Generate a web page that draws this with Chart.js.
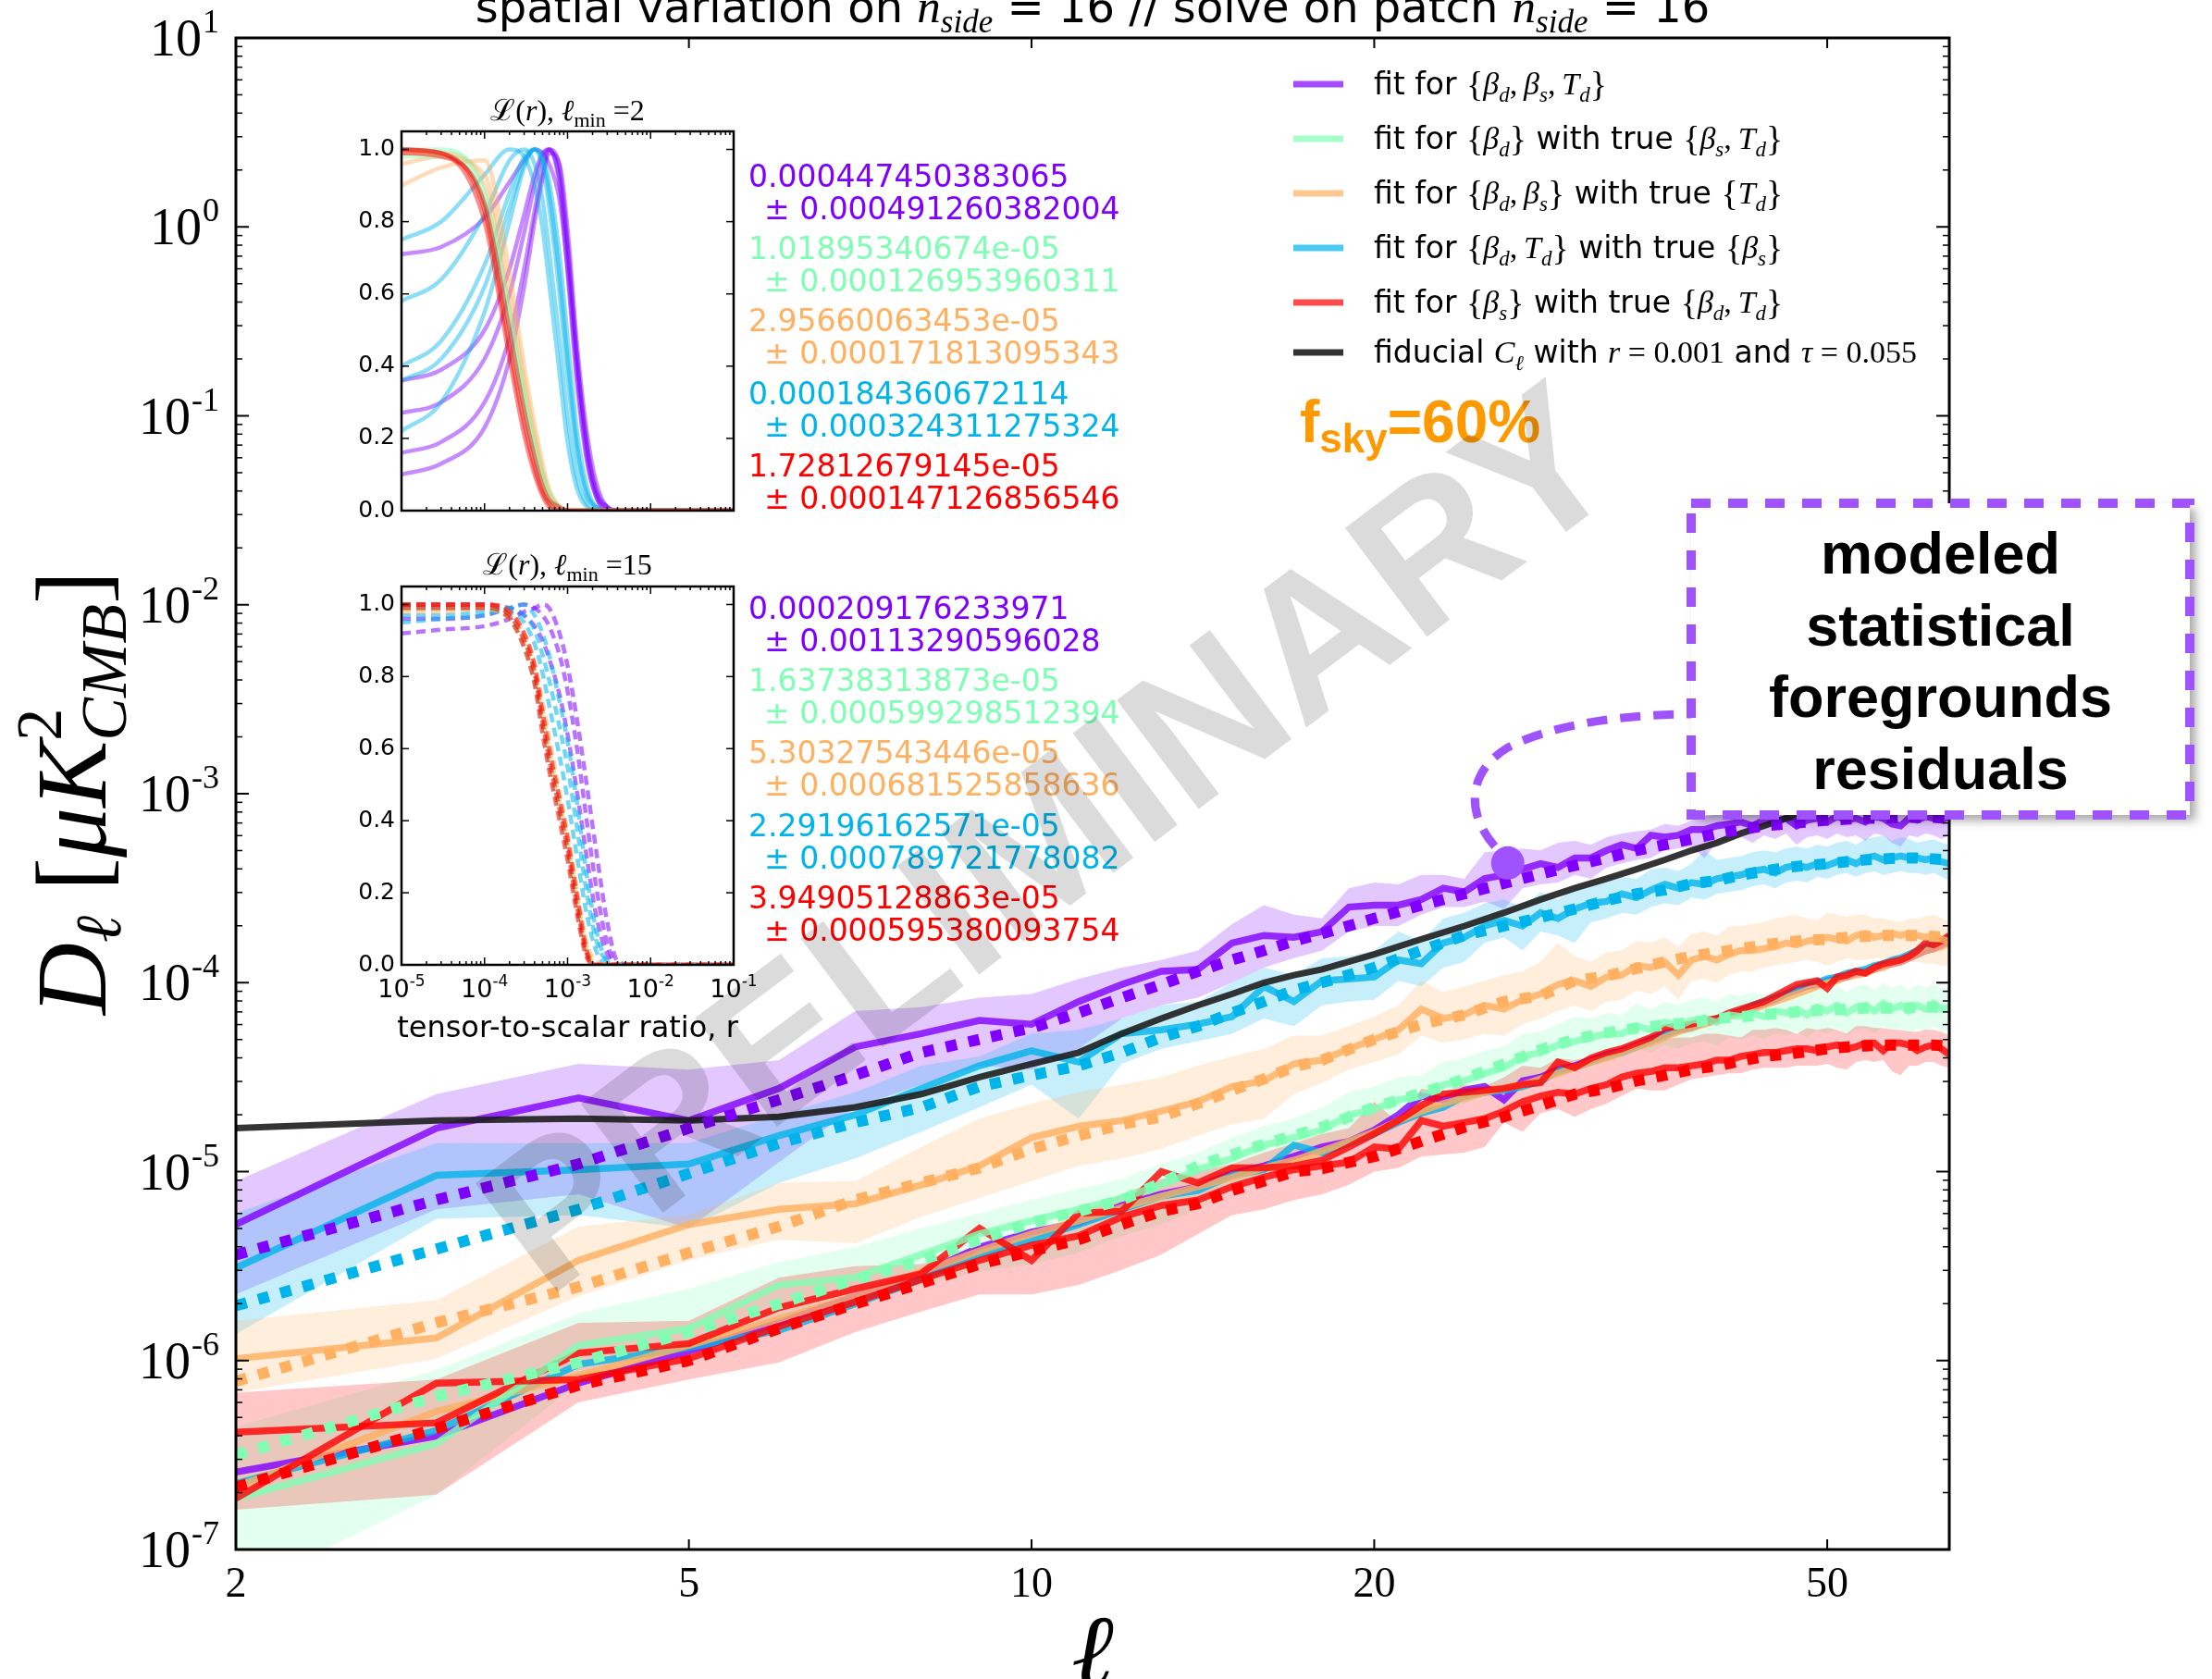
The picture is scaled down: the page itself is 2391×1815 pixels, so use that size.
<!DOCTYPE html>
<html>
<head>
<meta charset="utf-8">
<title>Foreground residuals, n_side = 16</title>
<script src="https://cdn.jsdelivr.net/npm/chart.js@4.4.1/dist/chart.umd.min.js"></script>
<style>
  html, body { margin: 0; padding: 0; background: #fff; overflow: hidden; }
  #wrap { position: relative; width: 2391px; height: 1815px; }
  #wrap canvas { position: absolute; left: 0; top: 0; }
</style>
</head>
<body>
<div id="wrap">
  <canvas id="main" width="2391" height="1815"></canvas>
  <canvas id="inset1" width="2391" height="1815"></canvas>
  <canvas id="inset2" width="2391" height="1815"></canvas>
  <canvas id="overlay" width="2391" height="1815"></canvas>
</div>
<script>
// multipoles
const ell = [2, 3, 4, 5, 6, 7, 8, 9, 10, 11, 12, 13, 14, 15, 16, 17, 18, 19, 20, 21,
  22, 23, 24, 25, 26, 27, 28, 29, 30, 31, 32, 33, 34, 35, 36, 37, 38, 39, 40, 41,
  42, 43, 44, 45, 46, 47, 48, 49, 50, 51, 52, 53, 54, 55, 56, 57, 58, 59, 60, 61,
  62, 63, 64];
const modelEll = [2, 3, 4, 5, 6, 7, 8, 9, 10, 11, 12, 13, 14, 15, 16, 17, 18,
  20, 22, 24, 26, 28, 30, 32, 34, 36, 38, 40, 42, 44, 46, 48, 50, 52, 54, 56, 58, 60, 62, 64];

// all spectra below are log10(D_ell / uK^2)
// fit for {beta_d, beta_s, T_d}
const purpleFit = [-5.28, -4.77, -4.61, -4.73, -4.56, -4.34, -4.27, -4.20, -4.22, -4.10,
  -4.01, -3.94, -3.93, -3.79, -3.75, -3.76, -3.73, -3.60, -3.59, -3.59,
  -3.56, -3.50, -3.52, -3.45, -3.43, -3.40, -3.37, -3.39, -3.34, -3.34,
  -3.30, -3.27, -3.29, -3.22, -3.23, -3.22, -3.19, -3.19, -3.17, -3.16,
  -3.15, -3.17, -3.14, -3.15, -3.13, -3.17, -3.14, -3.13, -3.15, -3.12,
  -3.14, -3.13, -3.15, -3.12, -3.13, -3.16, -3.17, -3.13, -3.14, -3.12,
  -3.13, -3.14, -3.12];
const purpleHi = [-5.05, -4.59, -4.43, -4.46, -4.41, -4.15, -4.13, -4.08, -4.06, -3.98,
  -3.92, -3.88, -3.83, -3.69, -3.59, -3.64, -3.66, -3.50, -3.47, -3.48,
  -3.43, -3.43, -3.45, -3.31, -3.30, -3.29, -3.30, -3.26, -3.25, -3.27,
  -3.23, -3.21, -3.20, -3.19, -3.16, -3.17, -3.14, -3.12, -3.11, -3.08,
  -3.07, -3.09, -3.06, -3.07, -3.05, -3.08, -3.06, -3.05, -3.07, -3.04,
  -3.06, -3.05, -3.07, -3.04, -3.05, -3.08, -3.07, -3.05, -3.06, -3.04,
  -3.05, -3.06, -3.04];
const purpleLo = [-5.65, -5.20, -5.12, -5.30, -4.95, -4.66, -4.54, -4.44, -4.46, -4.35,
  -4.19, -4.12, -4.08, -4.00, -3.92, -3.87, -3.83, -3.73, -3.70, -3.70,
  -3.64, -3.60, -3.60, -3.57, -3.61, -3.50, -3.48, -3.47, -3.43, -3.45,
  -3.39, -3.37, -3.35, -3.34, -3.30, -3.29, -3.28, -3.34, -3.26, -3.24,
  -3.23, -3.26, -3.22, -3.24, -3.21, -3.27, -3.23, -3.22, -3.24, -3.21,
  -3.23, -3.22, -3.25, -3.21, -3.22, -3.26, -3.28, -3.22, -3.23, -3.21,
  -3.22, -3.24, -3.22];
const purpleModel = [-5.44, -5.15, -4.96, -4.77, -4.62, -4.49, -4.37, -4.30, -4.24, -4.16,
  -4.08, -4.01, -3.94, -3.88, -3.83, -3.78, -3.74,
  -3.66, -3.59, -3.53, -3.475, -3.425, -3.38, -3.34, -3.30, -3.27, -3.24, -3.21, -3.19,
  -3.17, -3.16, -3.15, -3.14, -3.135, -3.13, -3.13, -3.125, -3.125, -3.125, -3.13];
const purpleNoise = [-6.59, -6.40, -6.12, -5.95, -5.80, -5.66, -5.54, -5.40, -5.32, -5.27,
  -5.18, -5.12, -5.08, -5.01, -4.97, -4.92, -4.87, -4.84, -4.78, -4.70,
  -4.60, -4.62, -4.57, -4.55, -4.62, -4.52, -4.50, -4.46, -4.44, -4.41,
  -4.38, -4.36, -4.33, -4.30, -4.27, -4.25, -4.23, -4.21, -4.20, -4.17,
  -4.15, -4.13, -4.11, -4.09, -4.06, -4.04, -4.02, -4.01, -3.99, -3.98,
  -3.97, -3.95, -3.94, -3.93, -3.91, -3.90, -3.89, -3.87, -3.85, -3.83,
  -3.82, -3.80, -3.78];

// fit for {beta_d} with true {beta_s, T_d}
const greenFit = [-6.73, -6.44, -5.92, -5.83, -5.60, -5.56, -5.44, -5.33, -5.26, -5.20,
  -5.14, -5.07, -4.99, -4.93, -4.86, -4.82, -4.78, -4.70, -4.67, -4.62,
  -4.60, -4.54, -4.52, -4.48, -4.45, -4.39, -4.37, -4.33, -4.31, -4.29,
  -4.27, -4.27, -4.23, -4.25, -4.21, -4.23, -4.20, -4.19, -4.21, -4.17,
  -4.18, -4.16, -4.18, -4.15, -4.16, -4.14, -4.17, -4.13, -4.15, -4.12,
  -4.16, -4.13, -4.12, -4.15, -4.11, -4.14, -4.12, -4.15, -4.12, -4.14,
  -4.11, -4.14, -4.13];
const greenHi = [-6.35, -6.05, -5.75, -5.62, -5.48, -5.40, -5.30, -5.22, -5.15, -5.09,
  -5.04, -4.96, -4.90, -4.82, -4.76, -4.72, -4.66, -4.58, -4.55, -4.50,
  -4.49, -4.42, -4.40, -4.36, -4.34, -4.27, -4.26, -4.22, -4.18, -4.19,
  -4.16, -4.17, -4.11, -4.14, -4.10, -4.12, -4.09, -4.08, -4.10, -4.06,
  -4.07, -4.05, -4.07, -4.04, -4.05, -4.03, -4.06, -4.02, -4.04, -4.01,
  -4.05, -4.02, -4.01, -4.04, -4.00, -4.03, -4.01, -4.04, -4.01, -4.03,
  -4.00, -4.03, -4.02];
const greenLo = [-7.23, -6.71, -6.12, -5.92, -5.80, -5.68, -5.60, -5.53, -5.49, -5.43,
  -5.34, -5.28, -5.20, -5.10, -5.02, -4.96, -4.92, -4.84, -4.80, -4.75,
  -4.72, -4.66, -4.64, -4.60, -4.57, -4.51, -4.49, -4.45, -4.43, -4.41,
  -4.39, -4.39, -4.35, -4.37, -4.33, -4.35, -4.32, -4.31, -4.33, -4.29,
  -4.30, -4.28, -4.30, -4.27, -4.28, -4.26, -4.29, -4.25, -4.27, -4.24,
  -4.28, -4.25, -4.24, -4.27, -4.23, -4.26, -4.24, -4.27, -4.24, -4.26,
  -4.23, -4.26, -4.25];
const greenModel = [-6.50, -6.19, -6.01, -5.85, -5.70, -5.57, -5.47, -5.36, -5.27, -5.21,
  -5.15, -5.06, -4.97, -4.91, -4.855, -4.81, -4.765,
  -4.66, -4.585, -4.51, -4.43, -4.355, -4.30, -4.265, -4.24, -4.225, -4.21, -4.19, -4.18,
  -4.17, -4.16, -4.15, -4.145, -4.14, -4.135, -4.135, -4.135, -4.13, -4.13, -4.135];

// fit for {beta_d, beta_s} with true {T_d}
const orangeFit = [-5.99, -5.88, -5.47, -5.28, -5.20, -5.17, -5.07, -4.97, -4.82, -4.76,
  -4.73, -4.68, -4.63, -4.55, -4.52, -4.43, -4.41, -4.35, -4.30, -4.25,
  -4.14, -4.19, -4.17, -4.12, -4.14, -4.09, -4.06, -4.01, -3.99, -4.02,
  -3.97, -3.96, -3.91, -3.92, -3.89, -3.96, -3.88, -3.86, -3.88, -3.85,
  -3.83, -3.83, -3.82, -3.81, -3.79, -3.80, -3.78, -3.77, -3.76, -3.77,
  -3.78, -3.75, -3.74, -3.76, -3.75, -3.74, -3.75, -3.74, -3.75, -3.76,
  -3.75, -3.77, -3.78];
const orangeHi = [-5.79, -5.68, -5.29, -5.23, -5.06, -5.05, -4.87, -4.72, -4.64, -4.58,
  -4.54, -4.50, -4.44, -4.39, -4.35, -4.28, -4.28, -4.23, -4.18, -4.12,
  -3.99, -4.05, -4.02, -3.99, -3.96, -3.94, -3.89, -3.79, -3.86, -3.89,
  -3.84, -3.83, -3.78, -3.79, -3.76, -3.81, -3.74, -3.73, -3.75, -3.70,
  -3.70, -3.69, -3.68, -3.66, -3.65, -3.64, -3.66, -3.67, -3.63, -3.64,
  -3.65, -3.64, -3.64, -3.66, -3.66, -3.67, -3.68, -3.66, -3.66, -3.65,
  -3.64, -3.66, -3.68];
const orangeLo = [-6.17, -5.99, -5.66, -5.47, -5.36, -5.38, -5.24, -5.14, -5.05, -4.97,
  -4.93, -4.88, -4.81, -4.75, -4.72, -4.59, -4.53, -4.46, -4.42, -4.38,
  -4.28, -4.32, -4.30, -4.27, -4.28, -4.22, -4.19, -4.15, -4.12, -4.15,
  -4.10, -4.09, -4.04, -4.06, -4.02, -4.09, -3.99, -3.98, -4.00, -3.96,
  -3.94, -3.94, -3.92, -3.91, -3.90, -3.89, -3.88, -3.89, -3.91, -3.89,
  -3.87, -3.88, -3.88, -3.87, -3.87, -3.87, -3.88, -3.89, -3.89, -3.90,
  -3.90, -3.91, -3.91];
const orangeModel = [-6.11, -5.80, -5.61, -5.43, -5.29, -5.15, -5.06, -4.98, -4.88, -4.81,
  -4.75, -4.71, -4.64, -4.57, -4.51, -4.445, -4.41,
  -4.30, -4.22, -4.17, -4.10, -4.07, -3.99, -3.965, -3.925, -3.89, -3.86, -3.84, -3.82,
  -3.80, -3.785, -3.775, -3.77, -3.76, -3.755, -3.75, -3.75, -3.75, -3.755, -3.76];
const orangeNoise = [-6.67, -6.27, -6.08, -5.92, -5.78, -5.66, -5.53, -5.42, -5.33, -5.26,
  -5.19, -5.13, -5.08, -5.03, -4.98, -4.94, -4.89, -4.84, -4.79, -4.73,
  -4.68, -4.64, -4.61, -4.58, -4.56, -4.54, -4.51, -4.48, -4.45, -4.42,
  -4.40, -4.37, -4.34, -4.32, -4.29, -4.26, -4.24, -4.22, -4.20, -4.18,
  -4.16, -4.14, -4.12, -4.10, -4.08, -4.06, -4.04, -4.02, -4.00, -3.99,
  -3.97, -3.96, -3.95, -3.93, -3.92, -3.90, -3.89, -3.87, -3.85, -3.83,
  -3.82, -3.81, -3.79];

// fit for {beta_d, T_d} with true {beta_s}
const blueFit = [-5.51, -5.02, -4.99, -4.96, -4.81, -4.70, -4.56, -4.44, -4.36, -4.42,
  -4.27, -4.25, -4.22, -4.18, -4.02, -4.10, -3.99, -3.98, -3.97, -3.88,
  -3.90, -3.79, -3.76, -3.70, -3.67, -3.70, -3.63, -3.66, -3.61, -3.58,
  -3.57, -3.53, -3.55, -3.51, -3.48, -3.50, -3.47, -3.48, -3.45, -3.44,
  -3.43, -3.41, -3.40, -3.42, -3.39, -3.38, -3.39, -3.37, -3.38, -3.36,
  -3.35, -3.37, -3.34, -3.33, -3.35, -3.34, -3.33, -3.34, -3.34, -3.35,
  -3.34, -3.36, -3.37];
const blueHi = [-5.22, -4.85, -4.85, -4.85, -4.70, -4.58, -4.44, -4.39, -4.27, -4.25,
  -4.19, -4.12, -4.10, -4.00, -3.92, -3.96, -3.87, -3.86, -3.83, -3.73,
  -3.78, -3.66, -3.63, -3.58, -3.56, -3.60, -3.52, -3.56, -3.50, -3.47,
  -3.46, -3.44, -3.45, -3.40, -3.39, -3.41, -3.37, -3.30, -3.35, -3.34,
  -3.33, -3.31, -3.30, -3.31, -3.29, -3.28, -3.29, -3.27, -3.28, -3.26,
  -3.25, -3.27, -3.24, -3.23, -3.22, -3.25, -3.23, -3.24, -3.26, -3.25,
  -3.24, -3.26, -3.27];
const blueLo = [-5.86, -5.25, -5.23, -5.30, -5.06, -4.93, -4.79, -4.66, -4.54, -4.72,
  -4.43, -4.35, -4.31, -4.27, -4.19, -4.23, -4.12, -4.10, -4.09, -3.99,
  -4.02, -3.92, -3.89, -3.79, -3.76, -3.83, -3.73, -3.75, -3.79, -3.68,
  -3.66, -3.63, -3.64, -3.60, -3.58, -3.59, -3.55, -3.56, -3.53, -3.52,
  -3.51, -3.49, -3.48, -3.50, -3.47, -3.46, -3.47, -3.44, -3.45, -3.43,
  -3.42, -3.44, -3.42, -3.41, -3.43, -3.42, -3.41, -3.42, -3.42, -3.43,
  -3.42, -3.44, -3.46];
const blueModel = [-5.71, -5.41, -5.20, -5.01, -4.85, -4.74, -4.66, -4.55, -4.49, -4.44,
  -4.37, -4.29, -4.23, -4.16, -4.10, -4.04, -4.00,
  -3.92, -3.83, -3.75, -3.70, -3.655, -3.61, -3.565, -3.53, -3.51, -3.475, -3.46, -3.43,
  -3.41, -3.39, -3.38, -3.37, -3.36, -3.35, -3.345, -3.34, -3.34, -3.345, -3.35];
const blueNoise = [-6.65, -6.37, -6.02, -5.93, -5.84, -5.70, -5.57, -5.44, -5.36, -5.28,
  -5.20, -5.13, -5.10, -5.02, -4.99, -4.86, -4.90, -4.85, -4.80, -4.74,
  -4.69, -4.66, -4.60, -4.58, -4.57, -4.55, -4.52, -4.47, -4.45, -4.42,
  -4.39, -4.37, -4.34, -4.31, -4.28, -4.25, -4.24, -4.21, -4.19, -4.17,
  -4.15, -4.12, -4.10, -4.08, -4.06, -4.03, -4.01, -4.00, -3.98, -3.97,
  -3.95, -3.94, -3.93, -3.91, -3.90, -3.88, -3.87, -3.85, -3.83, -3.81,
  -3.79, -3.78, -3.76];

// fit for {beta_s} with true {beta_d, T_d}
const redFit = [-6.73, -6.12, -6.10, -5.99, -5.82, -5.69, -5.57, -5.47, -5.39, -5.34,
  -5.24, -5.18, -5.15, -5.08, -5.03, -4.99, -4.97, -4.95, -4.87, -4.88,
  -4.73, -4.76, -4.74, -4.72, -4.68, -4.63, -4.60, -4.58, -4.59, -4.56,
  -4.54, -4.50, -4.48, -4.47, -4.45, -4.45, -4.44, -4.43, -4.41, -4.41,
  -4.39, -4.38, -4.37, -4.37, -4.36, -4.35, -4.35, -4.36, -4.34, -4.33,
  -4.35, -4.34, -4.32, -4.32, -4.36, -4.32, -4.32, -4.33, -4.36, -4.34,
  -4.33, -4.35, -4.38];
const redHi = [-6.17, -6.10, -5.80, -5.79, -5.56, -5.50, -5.49, -5.39, -5.36, -5.22,
  -5.12, -5.04, -5.00, -4.96, -4.90, -4.85, -4.80, -4.77, -4.63, -4.74,
  -4.56, -4.58, -4.54, -4.55, -4.50, -4.44, -4.45, -4.40, -4.41, -4.39,
  -4.37, -4.36, -4.35, -4.31, -4.30, -4.29, -4.29, -4.27, -4.27, -4.28,
  -4.29, -4.25, -4.25, -4.24, -4.25, -4.27, -4.24, -4.25, -4.24, -4.25,
  -4.27, -4.23, -4.23, -4.24, -4.24, -4.25, -4.25, -4.26, -4.26, -4.25,
  -4.25, -4.26, -4.28];
const redLo = [-6.79, -6.71, -6.22, -6.10, -6.01, -5.85, -5.74, -5.65, -5.65, -5.60,
  -5.52, -5.44, -5.33, -5.23, -5.20, -5.15, -5.12, -5.07, -5.00, -4.98,
  -4.92, -4.91, -4.90, -4.87, -4.74, -4.79, -4.69, -4.67, -4.71, -4.67,
  -4.64, -4.60, -4.56, -4.57, -4.57, -4.54, -4.51, -4.50, -4.49, -4.48,
  -4.48, -4.46, -4.45, -4.45, -4.45, -4.44, -4.44, -4.44, -4.43, -4.45,
  -4.46, -4.42, -4.41, -4.42, -4.41, -4.47, -4.49, -4.44, -4.44, -4.42,
  -4.42, -4.44, -4.45];
const redModel = [-6.67, -6.36, -6.13, -6.00, -5.83, -5.70, -5.59, -5.49, -5.42, -5.36,
  -5.28, -5.21, -5.17, -5.10, -5.05, -5.00, -4.985,
  -4.92, -4.84, -4.765, -4.71, -4.65, -4.59, -4.56, -4.52, -4.49, -4.46, -4.44, -4.415,
  -4.39, -4.38, -4.365, -4.35, -4.34, -4.335, -4.33, -4.33, -4.33, -4.33, -4.335];
const redNoise = [-6.38, -6.33, -5.96, -5.91, -5.72, -5.62, -5.54, -5.30, -5.47, -5.22,
  -5.21, -5.00, -5.06, -4.98, -4.98, -4.97, -4.94, -4.87, -4.80, -4.73,
  -4.65, -4.59, -4.58, -4.57, -4.56, -4.54, -4.53, -4.42, -4.45, -4.40,
  -4.37, -4.35, -4.32, -4.29, -4.24, -4.23, -4.22, -4.20, -4.19, -4.16,
  -4.14, -4.12, -4.10, -4.07, -4.04, -4.01, -4.00, -3.99, -4.03, -3.97,
  -3.96, -3.94, -3.95, -3.92, -3.90, -3.89, -3.88, -3.86, -3.83, -3.79,
  -3.80, -3.78, -3.75];

// fiducial lensing + r = 0.001 spectrum
const fiducial = [-4.77, -4.73, -4.72, -4.73, -4.71, -4.66, -4.59, -4.50, -4.43, -4.37,
  -4.27, -4.19, -4.12, -4.06, -4.00, -3.96, -3.93,
  -3.85, -3.77, -3.70, -3.63, -3.56, -3.50, -3.45, -3.40, -3.35, -3.30, -3.26, -3.21,
  -3.17, -3.13, -3.10, -3.06, -3.03, -2.99, -2.96, -2.93, -2.90, -2.87, -2.84];

// highlighted residual point
const markerPoint = { ell: 26.2, dl: 4.3e-4 };

const xTicks = [2, 5, 10, 20, 50];
const yDecades = [-7, -6, -5, -4, -3, -2, -1, 0, 1];

// likelihood curves L(r) on a common r grid
const rGrid = [1e-5, 3e-5, 1e-4, 2e-4, 3e-4, 4e-4, 5e-4, 6e-4, 8e-4, 1e-3, 1.3e-3, 1.7e-3,
  2.2e-3, 3e-3, 4e-3, 6e-3, 1e-2, 1e-1];

const lmin2Purple = [
  [0.10, 0.13, 0.23, 0.42, 0.62, 0.80, 0.92, 0.99, 0.96, 0.78, 0.46, 0.22, 0.08, 0.01, 0, 0, 0, 0],
  [0.16, 0.19, 0.30, 0.48, 0.67, 0.83, 0.94, 1.00, 0.95, 0.74, 0.42, 0.19, 0.06, 0.01, 0, 0, 0, 0],
  [0.27, 0.30, 0.42, 0.60, 0.77, 0.90, 0.98, 1.00, 0.90, 0.66, 0.35, 0.14, 0.04, 0, 0, 0, 0, 0],
  [0.36, 0.39, 0.50, 0.67, 0.82, 0.93, 0.99, 1.00, 0.92, 0.72, 0.42, 0.18, 0.05, 0.01, 0, 0, 0, 0],
  [0.71, 0.73, 0.81, 0.91, 0.97, 1.00, 0.99, 0.96, 0.86, 0.67, 0.38, 0.15, 0.04, 0, 0, 0, 0, 0]
];
const lmin2Blue = [
  [0.22, 0.30, 0.55, 0.80, 0.95, 1.00, 0.97, 0.88, 0.65, 0.42, 0.18, 0.05, 0.01, 0, 0, 0, 0, 0],
  [0.40, 0.47, 0.68, 0.88, 0.98, 1.00, 0.95, 0.84, 0.60, 0.37, 0.15, 0.04, 0.01, 0, 0, 0, 0, 0],
  [0.58, 0.64, 0.82, 0.97, 1.00, 0.96, 0.86, 0.72, 0.47, 0.26, 0.09, 0.02, 0, 0, 0, 0, 0, 0],
  [0.75, 0.80, 0.93, 1.00, 0.98, 0.90, 0.78, 0.63, 0.38, 0.19, 0.06, 0.01, 0, 0, 0, 0, 0, 0],
  [0.36, 0.42, 0.62, 0.84, 0.96, 1.00, 0.98, 0.91, 0.71, 0.48, 0.22, 0.07, 0.01, 0, 0, 0, 0, 0]
];
const lmin2Orange = [
  [0.90, 0.95, 0.97, 0.66, 0.40, 0.24, 0.13, 0.06, 0.01, 0, 0, 0, 0, 0, 0, 0, 0, 0],
  [0.96, 0.98, 0.93, 0.60, 0.36, 0.21, 0.11, 0.05, 0.01, 0, 0, 0, 0, 0, 0, 0, 0, 0],
  [0.99, 0.99, 0.90, 0.56, 0.33, 0.19, 0.10, 0.04, 0.01, 0, 0, 0, 0, 0, 0, 0, 0, 0]
];
const lmin2Green = [
  [1.00, 0.99, 0.86, 0.52, 0.30, 0.16, 0.08, 0.03, 0.01, 0, 0, 0, 0, 0, 0, 0, 0, 0],
  [0.98, 0.98, 0.84, 0.48, 0.27, 0.14, 0.06, 0.02, 0, 0, 0, 0, 0, 0, 0, 0, 0, 0],
  [1.00, 1.00, 0.88, 0.55, 0.33, 0.19, 0.10, 0.05, 0.01, 0, 0, 0, 0, 0, 0, 0, 0, 0]
];
const lmin2Red = [
  [1.00, 0.99, 0.83, 0.45, 0.24, 0.12, 0.05, 0.02, 0, 0, 0, 0, 0, 0, 0, 0, 0, 0],
  [0.99, 0.98, 0.85, 0.50, 0.28, 0.15, 0.07, 0.03, 0.01, 0, 0, 0, 0, 0, 0, 0, 0, 0],
  [1.00, 0.99, 0.80, 0.42, 0.21, 0.10, 0.04, 0.01, 0, 0, 0, 0, 0, 0, 0, 0, 0, 0]
];

const lmin15Purple = [
  [0.92, 0.93, 0.94, 0.96, 0.98, 0.99, 1.00, 0.99, 0.92, 0.83, 0.68, 0.50, 0.32, 0.12, 0.01, 0, 0, 0],
  [0.96, 0.96, 0.97, 0.99, 1.00, 0.99, 0.97, 0.94, 0.86, 0.76, 0.60, 0.40, 0.22, 0.06, 0, 0, 0, 0],
  [1.00, 1.00, 1.00, 0.99, 0.97, 0.94, 0.90, 0.85, 0.75, 0.64, 0.48, 0.30, 0.14, 0.03, 0, 0, 0, 0]
];
const lmin15Blue = [
  [0.97, 0.97, 0.98, 0.99, 0.97, 0.93, 0.86, 0.79, 0.66, 0.55, 0.38, 0.20, 0.07, 0.01, 0, 0, 0, 0],
  [0.99, 0.99, 0.99, 0.98, 0.95, 0.89, 0.81, 0.72, 0.58, 0.46, 0.30, 0.14, 0.04, 0, 0, 0, 0, 0],
  [0.95, 0.96, 0.97, 0.99, 1.00, 0.97, 0.92, 0.86, 0.73, 0.62, 0.45, 0.25, 0.10, 0.01, 0, 0, 0, 0]
];
const lmin15Orange = [
  [0.99, 0.99, 1.00, 0.98, 0.92, 0.84, 0.73, 0.63, 0.48, 0.37, 0.21, 0.06, 0.01, 0, 0, 0, 0, 0],
  [1.00, 1.00, 0.99, 0.96, 0.89, 0.79, 0.68, 0.58, 0.44, 0.33, 0.18, 0.04, 0, 0, 0, 0, 0, 0],
  [0.98, 0.98, 0.99, 0.97, 0.91, 0.82, 0.71, 0.61, 0.46, 0.35, 0.20, 0.05, 0, 0, 0, 0, 0, 0]
];
const lmin15Green = [
  [0.99, 0.99, 1.00, 0.97, 0.90, 0.81, 0.69, 0.59, 0.45, 0.34, 0.18, 0.04, 0, 0, 0, 0, 0, 0],
  [1.00, 1.00, 0.99, 0.96, 0.88, 0.78, 0.66, 0.55, 0.42, 0.31, 0.16, 0.03, 0, 0, 0, 0, 0, 0]
];
const lmin15Red = [
  [1.00, 1.00, 1.00, 0.97, 0.90, 0.81, 0.67, 0.57, 0.43, 0.32, 0.16, 0.03, 0, 0, 0, 0, 0, 0],
  [0.99, 0.99, 0.99, 0.96, 0.88, 0.78, 0.64, 0.54, 0.40, 0.29, 0.14, 0.02, 0, 0, 0, 0, 0, 0],
  [1.00, 1.00, 1.00, 0.98, 0.92, 0.83, 0.70, 0.60, 0.46, 0.35, 0.19, 0.04, 0, 0, 0, 0, 0, 0]
];

// best-fit r and its error, per configuration (purple, green, orange, blue, red)
const lmin2Means = ['0.000447450383065', '1.01895340674e-05', '2.95660063453e-05', '0.000184360672114', '1.72812679145e-05'];
const lmin2Errors = ['0.000491260382004', '0.000126953960311', '0.000171813095343', '0.000324311275324', '0.000147126856546'];
const lmin15Means = ['0.000209176233971', '1.63738313873e-05', '5.30327543446e-05', '2.29196162571e-05', '3.94905128863e-05'];
const lmin15Errors = ['0.00113290596028', '0.000599298512394', '0.000681525858636', '0.000789721778082', '0.000595380093754'];

// rainbow colours used for the five fits
const C = {
  purple: '128,0,255',
  green: '128,255,180',
  orange: '255,176,96',
  blue: '0,180,235',
  red: '255,0,0'
};
const rgba = (c, a) => 'rgba(' + c + ',' + a + ')';
const pts = (xs, ys) => xs.map((x, i) => ({ x: x, y: Math.pow(10, ys[i]) }));

const W = 2391, H = 1815;
const AREA = { left: 255, top: 41, right: 2107, bottom: 1675 };

// text with mixed fonts: [text, font, dy, noAdvance]
function richWidth(ctx, parts) {
  let w = 0;
  for (const p of parts) { ctx.font = p[1]; if (!p[3]) w += ctx.measureText(p[0]).width; }
  return w;
}
function drawRich(ctx, parts, x, y) {
  let cx = x;
  for (const p of parts) {
    ctx.font = p[1];
    ctx.fillText(p[0], cx, y + (p[2] || 0));
    if (!p[3]) cx += ctx.measureText(p[0]).width;
  }
  return cx;
}
function seg(ctx, x1, y1, x2, y2) {
  ctx.beginPath(); ctx.moveTo(x1, y1); ctx.lineTo(x2, y2); ctx.stroke();
}

// ---------- main panel ----------
const datasets = [];
datasets.push({
  data: [{ x: markerPoint.ell, y: markerPoint.dl }], showLine: false,
  pointRadius: 18, pointBackgroundColor: '#a052ff', pointBorderWidth: 0, order: 0
});
const series = [
  [C.red, redFit, redLo, redHi, redModel, redNoise],
  [C.green, greenFit, greenLo, greenHi, greenModel, null],
  [C.orange, orangeFit, orangeLo, orangeHi, orangeModel, orangeNoise],
  [C.blue, blueFit, blueLo, blueHi, blueModel, blueNoise],
  [C.purple, purpleFit, purpleLo, purpleHi, purpleModel, purpleNoise]
];
for (const [c, fit, lo, hi, model, noise] of series) {
  datasets.push({ data: pts(modelEll, model), borderColor: rgba(c, 1), borderWidth: 12,
    borderDash: [12, 13], order: 4 });
  datasets.push({ data: pts(ell, fit), borderColor: rgba(c, 0.8), borderWidth: 7.5, order: 8 });
  if (noise) {
    datasets.push({ data: pts(ell, noise), borderColor: rgba(c, 0.8), borderWidth: 7.5, order: 9 });
  }
  datasets.push({ data: pts(ell, hi), borderWidth: 0, borderColor: 'transparent',
    backgroundColor: rgba(c, 0.22), fill: '+1', order: 20 });
  datasets.push({ data: pts(ell, lo), borderWidth: 0, borderColor: 'transparent', fill: false, order: 20 });
}
datasets.push({ data: pts(modelEll, fiducial), borderColor: 'rgba(30,30,30,0.9)', borderWidth: 7, order: 6 });

const LS = '33px "DejaVu Sans"';
const LM = 'italic 34px "Liberation Serif"';
const LU = '34px "Liberation Serif"';
const LSUB = 'italic 23px "Liberation Serif"';
const LB = '38px "Liberation Serif"';
const sym = {
  bd: [['β', LM], ['d', LSUB, 8]],
  bs: [['β', LM], ['s', LSUB, 8]],
  Td: [['T', LM], ['d', LSUB, 8]]
};
function paramSet(...names) {
  const out = [['{', LB, 2]];
  names.forEach((n, i) => { if (i) out.push([',\u2009', LU]); out.push(...sym[n]); });
  out.push(['}', LB, 2]);
  return out;
}
const legendRows = [
  [C.purple, [['fit for ', LS], ...paramSet('bd', 'bs', 'Td')]],
  [C.green, [['fit for ', LS], ...paramSet('bd'), [' with true ', LS], ...paramSet('bs', 'Td')]],
  [C.orange, [['fit for ', LS], ...paramSet('bd', 'bs'), [' with true ', LS], ...paramSet('Td')]],
  [C.blue, [['fit for ', LS], ...paramSet('bd', 'Td'), [' with true ', LS], ...paramSet('bs')]],
  [C.red, [['fit for ', LS], ...paramSet('bs'), [' with true ', LS], ...paramSet('bd', 'Td')]],
  ['0,0,0', [['fiducial ', LS], ['C', LM], ['ℓ', LSUB, 8], [' with ', LS], ['r', LM], [' = ', LU],
    ['0.001', LU], [' and ', LS], ['τ', LM], [' = ', LU], ['0.055', LU]]]
];
const legendY = [91, 150, 209, 268, 327, 381];

const mainDecor = {
  id: 'mainDecor',
  afterDraw(chart) {
    const { ctx, chartArea: a, scales: { x, y } } = chart;
    ctx.save();
    ctx.strokeStyle = '#000';
    ctx.fillStyle = '#000';

    // inward ticks on all four sides
    for (const k of yDecades) {
      const py = y.getPixelForValue(Math.pow(10, k));
      ctx.lineWidth = 2;
      seg(ctx, a.left, py, a.left + 14, py);
      seg(ctx, a.right - 14, py, a.right, py);
      if (k < yDecades[yDecades.length - 1]) {
        ctx.lineWidth = 1.5;
        for (let m = 2; m <= 9; m++) {
          const pm = y.getPixelForValue(m * Math.pow(10, k));
          seg(ctx, a.left, pm, a.left + 7, pm);
          seg(ctx, a.right - 7, pm, a.right, pm);
        }
      }
    }
    ctx.lineWidth = 2;
    for (const v of xTicks) {
      const px = x.getPixelForValue(v);
      seg(ctx, px, a.bottom, px, a.bottom - 11);
      seg(ctx, px, a.top, px, a.top + 11);
    }
    ctx.lineWidth = 3;
    ctx.strokeRect(a.left, a.top, a.right - a.left, a.bottom - a.top);

    // y tick labels 10^k
    ctx.textBaseline = 'alphabetic';
    ctx.textAlign = 'left';
    for (const k of yDecades) {
      const py = y.getPixelForValue(Math.pow(10, k));
      ctx.font = '56px "Liberation Serif"';
      const w10 = ctx.measureText('10').width;
      ctx.font = '36px "Liberation Serif"';
      const we = ctx.measureText(String(k)).width;
      const x0 = 236 - w10 - we;
      ctx.font = '56px "Liberation Serif"';
      ctx.fillText('10', x0, py + 19);
      ctx.font = '36px "Liberation Serif"';
      ctx.fillText(String(k), x0 + w10 + 1, py - 6);
    }

    // title
    const TS = '48px "DejaVu Sans"';
    const TN = 'italic 51px "Liberation Serif"';
    const TSUB = 'italic 35px "Liberation Serif"';
    const title = [['spatial variation on ', TS], ['n', TN], ['side', TSUB, 11],
      [' = 16 // solve on patch ', TS], ['n', TN], ['side', TSUB, 11], [' = 16', TS]];
    drawRich(ctx, title, (a.left + a.right) / 2 - richWidth(ctx, title) / 2, 24);

    // axis titles
    ctx.font = 'italic 110px "DejaVu Serif"';
    ctx.textAlign = 'center';
    ctx.fillText('ℓ', (a.left + a.right) / 2, 1822);
    ctx.textAlign = 'left';
    const YB = 'italic 108px "Liberation Serif"';
    const YU = '108px "Liberation Serif"';
    const YS = 'italic 70px "Liberation Serif"';
    const ylab = [['D', YB], ['ℓ', YS, 16], [' ', YU], ['[', YU], ['μ', YB], ['K', YB],
      ['2', '70px "Liberation Serif"', -48, true], ['CMB', YS, 22], [']', YU]];
    ctx.save();
    ctx.translate(114, 857);
    ctx.rotate(-Math.PI / 2);
    drawRich(ctx, ylab, -richWidth(ctx, ylab) / 2, 0);
    ctx.restore();

    // legend
    legendRows.forEach(([c, parts], i) => {
      const cy = legendY[i];
      ctx.fillStyle = c === '0,0,0' ? 'rgba(0,0,0,0.8)' : rgba(c, 0.7);
      ctx.fillRect(1398, cy - 3.5, 54, 7);
      ctx.fillStyle = '#000';
      drawRich(ctx, parts, 1485, cy + 11);
    });

    // sky fraction
    ctx.fillStyle = '#ff9900';
    drawRich(ctx, [['f', 'bold 64px "Liberation Sans"'], ['sky', 'bold 44px "Liberation Sans"', 11],
      ['=60%', 'bold 64px "Liberation Sans"']], 1405, 478);
    ctx.restore();
  }
};

const mainChart = new Chart(document.getElementById('main'), {
  type: 'line',
  data: { datasets: datasets },
  options: {
    responsive: false,
    devicePixelRatio: 1,
    animation: false,
    events: [],
    parsing: false,
    layout: { padding: { left: AREA.left, top: AREA.top, right: W - AREA.right, bottom: 0 } },
    elements: {
      point: { radius: 0 },
      line: { tension: 0, fill: false, borderCapStyle: 'butt', borderJoinStyle: 'miter' }
    },
    plugins: { legend: { display: false }, tooltip: { enabled: false } },
    scales: {
      x: {
        type: 'logarithmic', min: 2, max: 64,
        afterBuildTicks: s => { s.ticks = xTicks.map(v => ({ value: v })); },
        afterFit: s => { s.height = H - AREA.bottom; },
        grid: { display: false, drawTicks: false },
        border: { display: false },
        ticks: {
          autoSkip: false, maxRotation: 0, padding: 11, color: '#000',
          font: { family: 'Liberation Serif', size: 46 },
          callback: v => String(v)
        }
      },
      y: {
        type: 'logarithmic', min: 1e-7, max: 10,
        afterFit: s => { s.width = 0; },
        grid: { display: false, drawTicks: false },
        border: { display: false },
        ticks: { display: false }
      }
    }
  },
  plugins: [mainDecor]
});

// ---------- likelihood insets ----------
const INSET_L = 434, INSET_R = 793;
function insetDatasets(groups, dashed) {
  const out = [];
  for (const [c, curves] of groups) {
    for (const v of curves) {
      out.push({
        data: rGrid.map((r, i) => ({ x: r, y: v[i] })),
        borderColor: rgba(c, dashed ? 0.55 : 0.45),
        borderWidth: 4.5,
        borderDash: dashed ? [10, 6] : [],
        cubicInterpolationMode: 'monotone',
        pointRadius: 0,
        fill: false
      });
    }
  }
  return out;
}

function insetDecor(cfg) {
  return {
    id: 'insetDecor',
    afterDraw(chart) {
      const { ctx, chartArea: a, scales: { x, y } } = chart;
      ctx.save();
      ctx.strokeStyle = '#000';
      ctx.fillStyle = '#000';
      ctx.lineWidth = 1.5;
      for (const v of [0.2, 0.4, 0.6, 0.8, 1.0]) {
        const py = y.getPixelForValue(v);
        seg(ctx, a.left, py, a.left + 8, py);
        seg(ctx, a.right - 8, py, a.right, py);
      }
      for (let k = -5; k <= -1; k++) {
        for (let m = 1; m <= 9; m++) {
          if (k === -1 && m > 1) break;
          const px = x.getPixelForValue(m * Math.pow(10, k));
          const len = m === 1 ? 8 : 4;
          seg(ctx, px, a.bottom, px, a.bottom - len);
          seg(ctx, px, a.top, px, a.top + len);
        }
      }
      ctx.lineWidth = 2.5;
      ctx.strokeRect(a.left, a.top, a.right - a.left, a.bottom - a.top);

      // title
      const F = '32px "Liberation Serif"', FI = 'italic 32px "Liberation Serif"';
      const title = [['ℒ', '32px "DejaVu Serif"'], ['(', F], ['r', FI], [')', F], [', ', F],
        ['ℓ', FI], ['min', '22px "Liberation Serif"', 7], [' =', F], [cfg.lmin, F]];
      drawRich(ctx, title, (a.left + a.right) / 2 - richWidth(ctx, title) / 2, cfg.titleY);

      // r axis labels
      if (cfg.xLabels) {
        for (let k = -5; k <= -1; k++) {
          const px = x.getPixelForValue(Math.pow(10, k));
          const parts = [['10', '27px "DejaVu Sans"'], [String(k), '17px "DejaVu Sans"', -12]];
          drawRich(ctx, parts, px - richWidth(ctx, parts) / 2, a.bottom + 35);
        }
        ctx.font = '32px "DejaVu Sans"';
        ctx.textAlign = 'center';
        ctx.fillText('tensor-to-scalar ratio, r', (a.left + a.right) / 2, a.bottom + 78);
        ctx.textAlign = 'left';
      }

      // best-fit values
      const cols = [C.purple, C.green, C.orange, C.blue, C.red];
      ctx.font = '33px "DejaVu Sans"';
      cfg.means.forEach((m, i) => {
        const by = cfg.textY + i * 78.2;
        ctx.fillStyle = rgba(cols[i], 1);
        ctx.fillText(m, 809, by);
        ctx.fillText('± ' + cfg.errors[i], 826, by + 35);
      });
      ctx.restore();
    }
  };
}

function makeInset(id, top, bottom, groups, dashed, cfg) {
  return new Chart(document.getElementById(id), {
    type: 'line',
    data: { datasets: insetDatasets(groups, dashed) },
    options: {
      responsive: false,
      devicePixelRatio: 1,
      animation: false,
      events: [],
      parsing: false,
      layout: { padding: { left: INSET_L - 60, top: top, right: W - INSET_R, bottom: H - bottom } },
      plugins: { legend: { display: false }, tooltip: { enabled: false } },
      scales: {
        x: {
          type: 'logarithmic', min: 1e-5, max: 0.1,
          afterFit: s => { s.height = 0; },
          grid: { display: false, drawTicks: false },
          border: { display: false },
          ticks: { display: false }
        },
        y: {
          type: 'linear', min: 0, max: 1.05,
          afterBuildTicks: s => { s.ticks = [0, 0.2, 0.4, 0.6, 0.8, 1.0].map(v => ({ value: v })); },
          afterFit: s => { s.width = 60; },
          grid: { display: false, drawTicks: false },
          border: { display: false },
          ticks: {
            padding: 7, color: '#000',
            font: { family: 'DejaVu Sans', size: 25 },
            callback: v => v.toFixed(1)
          }
        }
      }
    },
    plugins: [insetDecor(cfg)]
  });
}

makeInset('inset1', 142, 552,
  [[C.red, lmin2Red], [C.green, lmin2Green], [C.orange, lmin2Orange], [C.blue, lmin2Blue], [C.purple, lmin2Purple]],
  false, { lmin: '2', titleY: 130, xLabels: false, means: lmin2Means, errors: lmin2Errors, textY: 202 });
makeInset('inset2', 634, 1043,
  [[C.red, lmin15Red], [C.green, lmin15Green], [C.orange, lmin15Orange], [C.blue, lmin15Blue], [C.purple, lmin15Purple]],
  true, { lmin: '15', titleY: 621, xLabels: true, means: lmin15Means, errors: lmin15Errors, textY: 669 });

// ---------- watermark and annotation ----------
(function drawOverlay() {
  const ctx = document.getElementById('overlay').getContext('2d');
  ctx.save();
  ctx.translate(1141, 917);
  ctx.rotate(-37 * Math.PI / 180);
  ctx.font = 'bold 214px "Liberation Sans"';
  ctx.fillStyle = 'rgba(0,0,0,0.14)';
  ctx.textAlign = 'center';
  ctx.textBaseline = 'middle';
  ctx.fillText('PRELIMINARY', 0, 0);
  ctx.restore();

  const violet = '#a052ff';
  const px = mainChart.scales.x.getPixelForValue(markerPoint.ell);
  const py = mainChart.scales.y.getPixelForValue(markerPoint.dl);
  const box = { x: 1828, y: 544, w: 539, h: 337 };

  // dashed loop from the marked point to the box
  ctx.save();
  ctx.strokeStyle = violet;
  ctx.lineWidth = 9;
  ctx.setLineDash([22, 14]);
  ctx.beginPath();
  ctx.moveTo(px - 14, py - 18);
  ctx.bezierCurveTo(1585, 880, 1585, 835, 1630, 808);
  ctx.bezierCurveTo(1680, 782, 1760, 772, box.x, 772);
  ctx.stroke();
  ctx.restore();

  ctx.save();
  ctx.shadowColor = 'rgba(0,0,0,0.35)';
  ctx.shadowBlur = 10;
  ctx.shadowOffsetX = 6;
  ctx.shadowOffsetY = 6;
  ctx.fillStyle = '#fff';
  ctx.fillRect(box.x, box.y, box.w, box.h);
  ctx.restore();

  ctx.save();
  ctx.strokeStyle = violet;
  ctx.lineWidth = 10;
  ctx.setLineDash([21, 19]);
  ctx.strokeRect(box.x, box.y, box.w, box.h);
  ctx.restore();

  ctx.fillStyle = '#000';
  ctx.font = 'bold 63px "Liberation Sans"';
  ctx.textAlign = 'center';
  ['modeled', 'statistical', 'foregrounds', 'residuals'].forEach((t, i) => {
    ctx.fillText(t, box.x + box.w / 2, 620 + i * 77.5);
  });
})();
</script>
</body>
</html>
